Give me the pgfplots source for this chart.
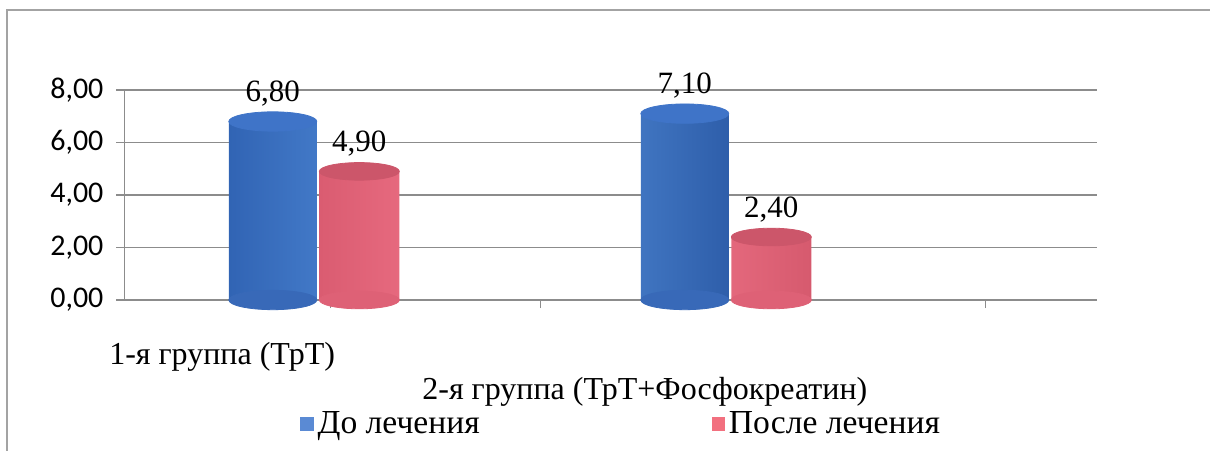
\documentclass[border=0pt]{standalone}
\usepackage{pgfplots}
\pgfplotsset{compat=1.18}
\usepackage{fontspec}
\setmainfont{Liberation Serif}
\newfontfamily\carlito{Carlito}
\definecolor{blueL}{HTML}{3164B4}
\definecolor{blueM}{HTML}{609EEA}
\definecolor{blueR}{HTML}{2E5EAA}
\definecolor{blueTop}{HTML}{3F74C8}
\definecolor{blueBot}{HTML}{3869B8}
\definecolor{pinkL}{HTML}{DA5C71}
\definecolor{pinkM}{HTML}{FF8499}
\definecolor{pinkR}{HTML}{D65A6E}
\definecolor{pinkTop}{HTML}{CC566A}
\definecolor{pinkBot}{HTML}{DE6176}
\definecolor{legBlue}{HTML}{5A8AD4}
\definecolor{legPink}{HTML}{F2707F}
\definecolor{gridc}{HTML}{8C8C8C}
\begin{document}
\begin{tikzpicture}
\useasboundingbox (0,0) rectangle (605pt,225pt);
\draw[gridc!80, line width=0.6pt] (3.5pt,-5pt) rectangle (612pt,220pt);
\begin{axis}[
  x=206pt, y=13.125pt,
  anchor=origin, at={(157pt,75pt)},
  xmin=-0.46, xmax=1.9, ymin=0, ymax=8,
  axis lines*=left,
  axis line style={gridc, line width=0.75pt},
  ytick={0,2,4,6,8},
  ymajorgrids,
  grid style={gridc, line width=0.75pt},
  tick style={gridc, line width=0.75pt},
  tick align=outside,
  major tick length=4pt,
  yticklabel style={font=\carlito\fontsize{15}{16}\selectfont, xshift=-3pt,
    /pgf/number format/.cd, fixed, fixed zerofill, precision=2, use comma, assume math mode=true},
  xtick={0.04,0.55,1.07,1.63},
  xticklabels={},
  clip=false,
  legend style={at={(axis cs:-0.034,-4.72)}, anchor=west, draw=none, fill=none,
    font=\fontsize{16.8}{18}\selectfont, inner sep=0pt,
    /tikz/every even column/.append style={column sep=114pt}},
  legend columns=2,
  legend image code/.code={\fill[draw=none,#1] (0pt,-3.3pt) rectangle (6.6pt,3.3pt);},
]
% bottom ellipses of the cylinders
\addplot[only marks, mark=*, mark size=20pt,
  mark options={draw=pinkBot, fill=pinkBot, yscale=0.22}, forget plot]
  coordinates {(0.11,0) (1.11,0)};
\addplot[only marks, mark=*, mark size=22pt,
  mark options={draw=blueBot, fill=blueBot, yscale=0.22}, forget plot]
  coordinates {(-0.1,0) (0.9,0)};
% После лечения
\addplot[ybar, bar width=40pt, bar shift=0pt, draw=none,
  left color=pinkL, right color=pinkR, middle color=pinkM, forget plot]
  coordinates {(0.11,4.9) (1.11,2.4)};
\addplot[only marks, mark=*, mark size=20pt,
  mark options={draw=pinkTop, fill=pinkTop, yscale=0.22}, forget plot,
  nodes near coords={\pgfmathprintnumber[fixed,fixed zerofill,precision=2,use comma,assume math mode=true]{\pgfplotspointmeta}},
  every node near coord/.append style={font=\fontsize{15.5}{17}\selectfont, text=black, anchor=south, yshift=4pt}]
  coordinates {(0.11,4.9) (1.11,2.4)};
% До лечения
\addplot[ybar, bar width=44pt, bar shift=0pt, draw=none,
  left color=blueL, right color=blueR, middle color=blueM, forget plot]
  coordinates {(-0.1,6.8) (0.9,7.1)};
\addplot[only marks, mark=*, mark size=22pt,
  mark options={draw=blueTop, fill=blueTop, yscale=0.22}, forget plot,
  nodes near coords={\pgfmathprintnumber[fixed,fixed zerofill,precision=2,use comma,assume math mode=true]{\pgfplotspointmeta}},
  every node near coord/.append style={font=\fontsize{15.5}{17}\selectfont, text=black, anchor=south, yshift=4pt}]
  coordinates {(-0.1,6.8) (0.9,7.1)};
\addlegendimage{fill=legBlue}
\addlegendentry{До лечения}
\addlegendimage{fill=legPink}
\addlegendentry{После лечения}
\node[font=\fontsize{16}{18}\selectfont] at (axis cs:-0.223,-2.17) {1-я группа (ТрТ)};
\node[font=\fontsize{16}{18}\selectfont] at (axis cs:0.803,-3.5) {2-я группа (ТрТ+Фосфокреатин)};
\end{axis}
\end{tikzpicture}
\end{document}
